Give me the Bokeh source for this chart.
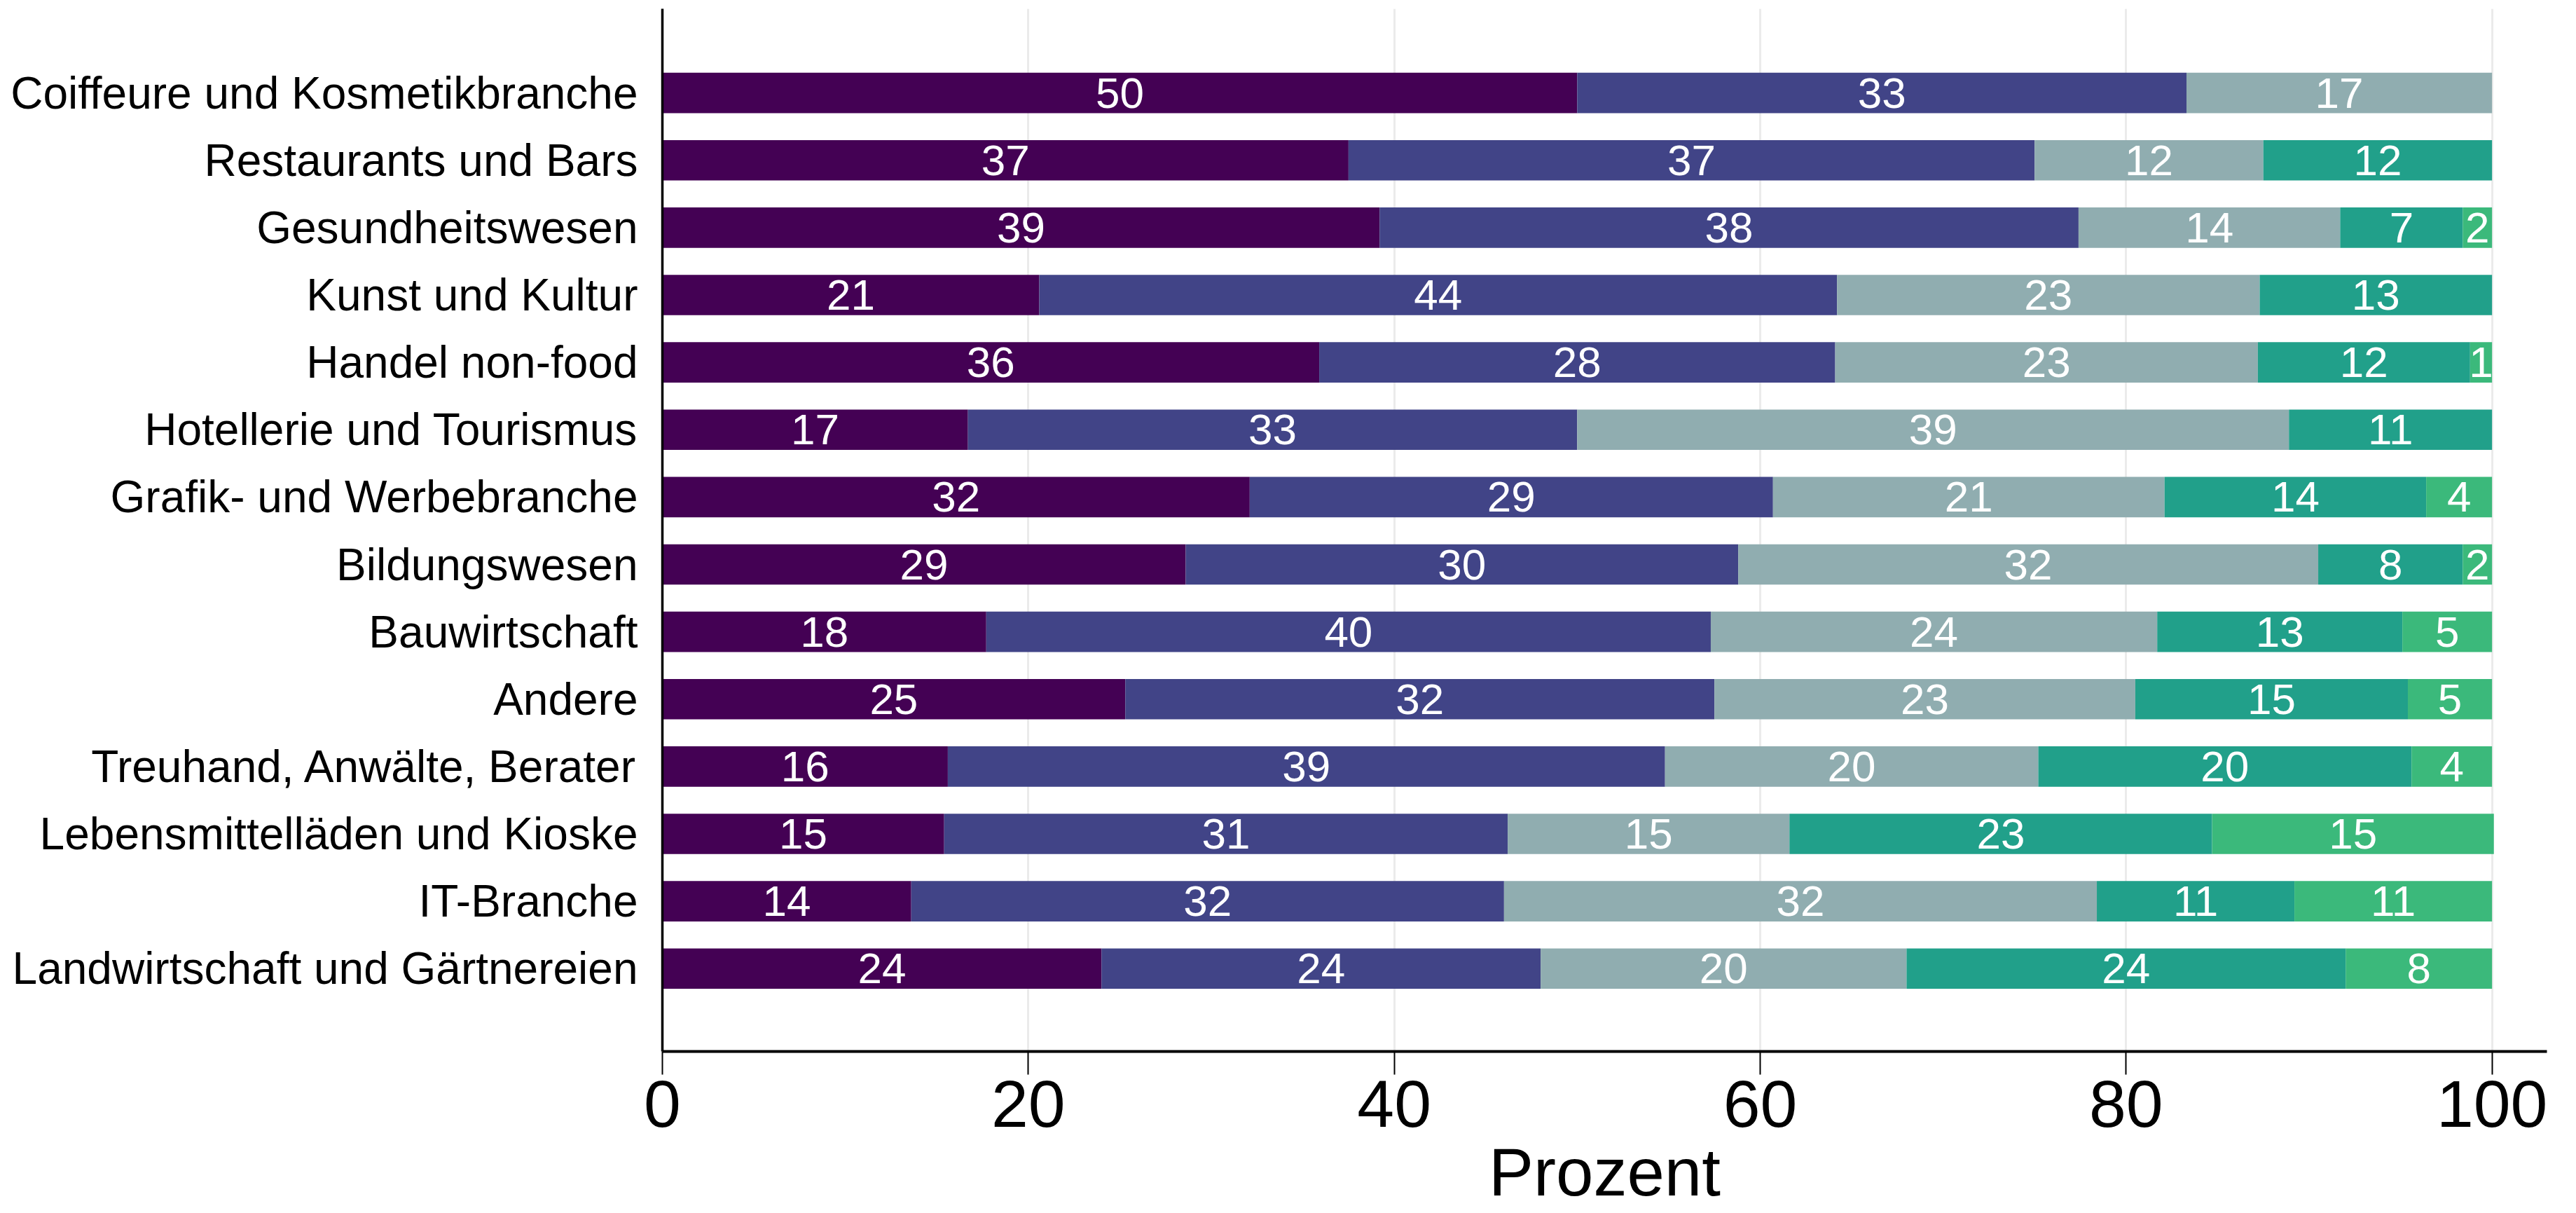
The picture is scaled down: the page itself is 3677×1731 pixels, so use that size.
import math
from bokeh.plotting import figure
from bokeh.models import ColumnDataSource, FixedTicker, Range1d
from bokeh.embed import file_html
from bokeh.resources import INLINE
from bokeh.core.properties import value

categories = [
    "Coiffeure und Kosmetikbranche",
    "Restaurants und Bars",
    "Gesundheitswesen",
    "Kunst und Kultur",
    "Handel non-food",
    "Hotellerie und Tourismus",
    "Grafik- und Werbebranche",
    "Bildungswesen",
    "Bauwirtschaft",
    "Andere",
    "Treuhand, Anwälte, Berater",
    "Lebensmittelläden und Kioske",
    "IT-Branche",
    "Landwirtschaft und Gärtnereien",
]

s1 = [50.0, 37.5, 39.2, 20.6, 35.9, 16.7, 32.1, 28.6, 17.7, 25.3, 15.6, 15.4, 13.6, 24.0]
s2 = [33.3, 37.5, 38.2, 43.6, 28.2, 33.3, 28.6, 30.2, 39.6, 32.2, 39.2, 30.8, 32.4, 24.0]
s3 = [16.7, 12.5, 14.3, 23.1, 23.1, 38.9, 21.4, 31.7, 24.4, 23.0, 20.4, 15.4, 32.4, 20.0]
s4 = [0.0, 12.5, 6.7, 12.7, 11.6, 11.1, 14.3, 7.9, 13.4, 14.9, 20.4, 23.1, 10.8, 24.0]
s5 = [0.0, 0.0, 1.6, 0.0, 1.2, 0.0, 3.6, 1.6, 4.9, 4.6, 4.4, 15.4, 10.8, 8.0]

x_ticks = [0, 20, 40, 60, 80, 100]
x_label = "Prozent"

colors = ["#440154", "#414487", "#90ADB0", "#21A08A", "#3BB97B"]
series = [s1, s2, s3, s4, s5]

FONT = "Liberation Sans"
n = len(categories)
ypos = [n - 1 - i for i in range(n)]

W, H = 3669, 1731
p = figure(
    width=W, height=H,
    output_backend="svg", toolbar_location=None,
    x_range=Range1d(0, 103), y_range=Range1d(-1.23, 14.25),
    min_border_left=945, min_border_right=W - 3635,
    min_border_top=12, min_border_bottom=H - 1500,
)
p.outline_line_color = None
p.background_fill_color = "white"
p.border_fill_color = "white"

left = [0.0] * n
lab_x, lab_y, lab_t = [], [], []
for s, c in zip(series, colors):
    right = [l + v for l, v in zip(left, s)]
    src = ColumnDataSource(dict(y=ypos, left=left, right=right))
    p.hbar(y="y", left="left", right="right", height=0.6, source=src,
           fill_color=c, line_color=None)
    for yy, l, v in zip(ypos, left, s):
        if v > 0:
            lab_x.append(l + v / 2)
            lab_y.append(yy)
            lab_t.append(str(math.ceil(v - 0.5)))
    left = right

p.text(x=lab_x, y=lab_y, text=lab_t, text_align="center", text_baseline="middle",
       text_color="white", text_font_size="62px", text_font=value(FONT))

# x axis
xa = p.xaxis[0]
xa.ticker = FixedTicker(ticks=x_ticks)
xa.axis_label = x_label
xa.axis_label_text_font = FONT
xa.axis_label_text_font_size = "96px"
xa.axis_label_text_font_style = "normal"
xa.axis_label_text_color = "black"
xa.axis_label_standoff = 8
xa.major_label_text_font = FONT
xa.major_label_text_font_size = "95px"
xa.major_label_text_color = "black"
xa.major_label_standoff = 9
xa.axis_line_width = 4
xa.axis_line_color = "black"
xa.major_tick_line_width = 2
xa.major_tick_line_color = "black"
xa.major_tick_out = 33
xa.major_tick_in = 0
xa.minor_tick_line_color = None

# y axis
ya = p.yaxis[0]
ya.ticker = FixedTicker(ticks=ypos)
ya.major_label_overrides = {yy: cat for yy, cat in zip(ypos, categories)}
ya.major_label_text_font = FONT
ya.major_label_text_font_size = "64px"
ya.major_label_text_color = "black"
ya.major_label_standoff = 35
ya.axis_line_width = 3.5
ya.axis_line_color = "black"
ya.major_tick_line_color = None
ya.major_tick_out = 0
ya.major_tick_in = 0
ya.minor_tick_line_color = None

p.ygrid.grid_line_color = None
p.xgrid.ticker = FixedTicker(ticks=x_ticks)
p.xgrid.grid_line_color = "#ebebeb"
p.xgrid.grid_line_width = 3
p.xgrid.level = "underlay"

open("out.html", "w").write(file_html(p, INLINE))
